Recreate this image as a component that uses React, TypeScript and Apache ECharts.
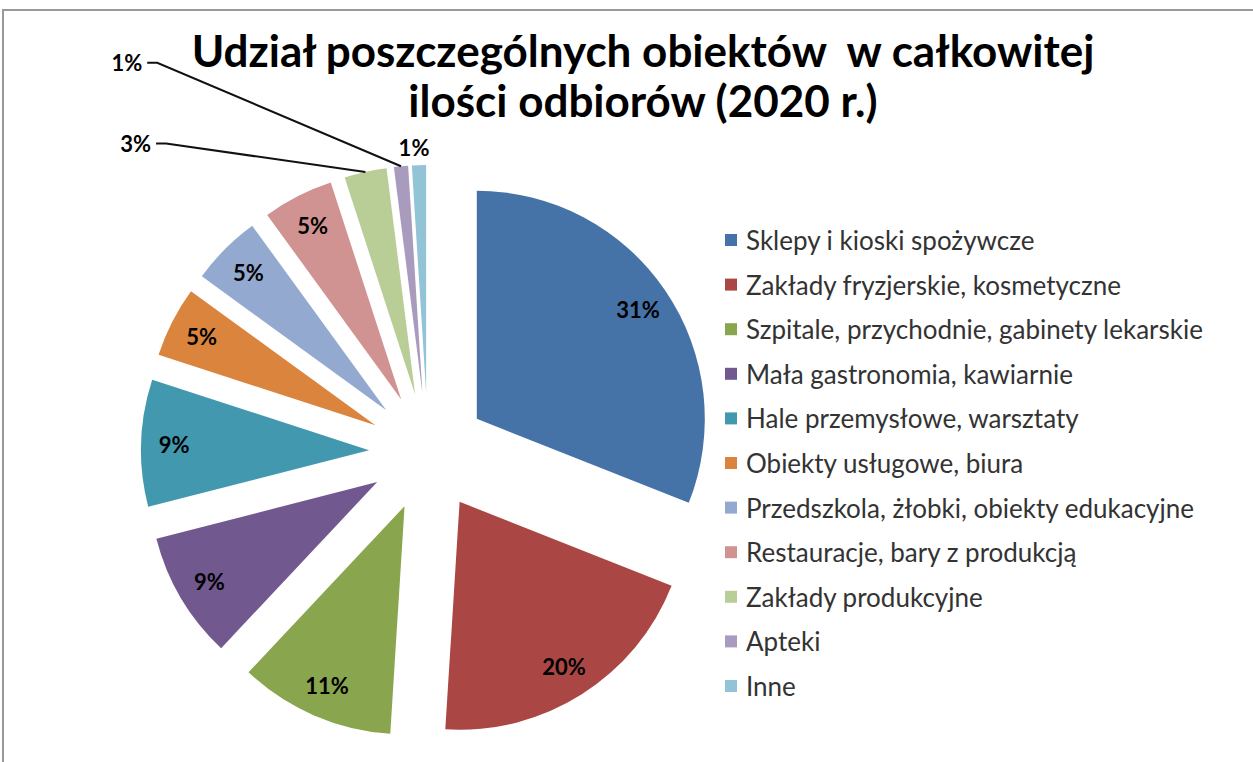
import React, { useEffect, useRef } from "react";
import * as echarts from "echarts";

const categories = [
  "Sklepy i kioski spożywcze",
  "Zakłady fryzjerskie, kosmetyczne",
  "Szpitale, przychodnie, gabinety lekarskie",
  "Mała gastronomia, kawiarnie",
  "Hale przemysłowe, warsztaty",
  "Obiekty usługowe, biura",
  "Przedszkola, żłobki, obiekty edukacyjne",
  "Restauracje, bary z produkcją",
  "Zakłady produkcyjne",
  "Apteki",
  "Inne",
];
const values = [31, 20, 11, 9, 9, 5, 5, 5, 3, 1, 1];
const colors = [
  "#4572A7", "#AA4643", "#89A54E", "#71588F", "#4198AF", "#DB843D",
  "#93A9CF", "#D19392", "#B9CD96", "#A99BBD", "#92C3D6",
];
const titleText = "Udział poszczególnych obiektów  w całkowitej\nilości odbiorów (2020 r.)";

// outside-label leader settings for the smallest slices (index -> [length, length2, showLine])
const outsideLabels: Record<number, [number, number, boolean]> = {
  8: [29, 203, true],
  9: [104, 244, true],
  10: [18, -16, false],
};

const FONT = "Lato, 'Open Sans', sans-serif";
const CENTER = [428, 452];
const R = 228;
const OFFSET = 59;

export default function App() {
  const ref = useRef<HTMLDivElement>(null);
  useEffect(() => {
    const chart = echarts.init(ref.current!, null, { renderer: "svg" });
    const mainData = categories.map((name, i) => ({
      name,
      value: values[i],
      selected: true,
      itemStyle: { color: colors[i] },
    }));
    const labelData = categories.map((name, i) => {
      const o = outsideLabels[i];
      if (o) {
        return {
          name,
          value: values[i],
          selected: true,
          label: {
            position: "outside",
            fontSize: 22,
            fontWeight: "bold",
            fontFamily: FONT,
            color: "#000",
          },
          labelLine: {
            show: o[2],
            length: o[0],
            length2: o[1],
            lineStyle: { color: "#111", width: 2 },
          },
        };
      }
      return { name, value: values[i], selected: true };
    });
    chart.setOption({
      animation: false,
      graphic: [
        {
          type: "rect",
          shape: { x: 3, y: 10, width: 1400, height: 900 },
          style: { fill: "none", stroke: "#999", lineWidth: 2 },
          silent: true,
        },
        {
          type: "text",
          x: 643,
          y: 25,
          style: {
            text: titleText,
            font: `bold 44px ${FONT}`,
            fill: "#000",
            textAlign: "center",
            textVerticalAlign: "top",
            lineHeight: 50,
          },
        },
      ],
      legend: {
        orient: "vertical",
        left: 725,
        top: 226,
        padding: 0,
        itemWidth: 12,
        itemHeight: 12,
        itemGap: 16.6,
        icon: "rect",
        selectedMode: false,
        textStyle: {
          fontFamily: FONT,
          fontSize: 26,
          color: "#333",
          lineHeight: 28,
          padding: [0, 0, 0, 4],
        },
        data: categories.map((name, i) => ({ name, itemStyle: { color: colors[i] } })),
      },
      series: [
        {
          type: "pie",
          z: 2,
          center: CENTER,
          radius: [0, R],
          startAngle: 90,
          clockwise: true,
          selectedMode: "multiple",
          selectedOffset: OFFSET,
          avoidLabelOverlap: false,
          label: { show: false },
          labelLine: { show: false },
          itemStyle: { borderWidth: 0 },
          emphasis: { disabled: true },
          data: mainData,
        },
        {
          type: "pie",
          z: 3,
          center: CENTER,
          radius: [156, R],
          startAngle: 90,
          clockwise: true,
          selectedMode: "multiple",
          selectedOffset: OFFSET,
          avoidLabelOverlap: false,
          silent: true,
          itemStyle: { color: "rgba(0,0,0,0)", borderWidth: 0 },
          emphasis: { disabled: true },
          label: {
            show: true,
            position: "inside",
            formatter: "{c}%",
            color: "#000",
            fontFamily: FONT,
            fontSize: 22,
            fontWeight: "bold",
          },
          labelLine: { show: false, lineStyle: { color: "#000" } },
          labelLayout: (params: any) => {
            const o = outsideLabels[params.dataIndex];
            const p = params.labelLinePoints;
            if (!o || !o[2] || !p || p.length < 2) return {};
            const end = p[p.length - 1];
            return { labelLinePoints: [p[0], [end[0] + 10, end[1]], end] };
          },
          data: labelData,
        },
      ],
    });
    return () => chart.dispose();
  }, []);
  return (
    <div
      ref={ref}
      style={{ position: "absolute", left: 0, top: 0, width: 1253, height: 762, background: "#fff" }}
    />
  );
}
